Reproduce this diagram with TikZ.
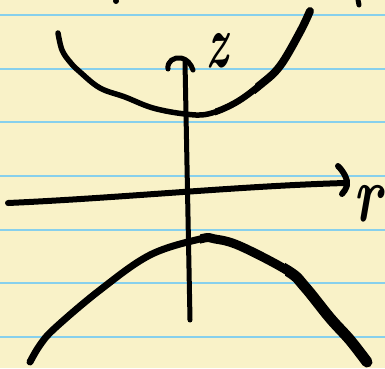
\documentclass[tikz,border=0pt]{standalone}
\usepackage{fontspec}
\usetikzlibrary{calc}
\definecolor{paper}{RGB}{249,242,200}
\definecolor{rule}{RGB}{135,208,236}
\tikzset{
  ink/.style={draw=black,line cap=round,line join=round},
  ruling/.style={draw=rule,line width=2pt},
  lbl/.style={inner sep=0pt,text=black}
}
\begin{document}
\begin{tikzpicture}[x=1pt,y=-1pt]
\fill[paper] (0,0) rectangle (385,368);
\useasboundingbox (0,0) rectangle (385,368);
\foreach \yy in {15,68.5,122,176,229.5,283,337}
  \draw[ruling] (0,\yy) -- (385,\yy);
% top stray marks
\fill (116,1) ellipse (3pt and 3pt);
\draw[ink,line width=5pt] (358,0) -- (359,5);
% upper parabola
\def\upper{plot[smooth,tension=0.6] coordinates {(58,33) (62,50) (70,62) (80,72) (100,88) (125,97) (153,108) (185,114) (208,114) (235,103) (260,85) (280,66) (300,32) (310,11)}}
\draw[ink,line width=5.5pt] \upper;
\begin{scope}
\clip (215,0) rectangle (385,368);
\draw[ink,line width=6.5pt] \upper;
\end{scope}
\begin{scope}
\clip (255,0) rectangle (385,368);
\draw[ink,line width=8pt] \upper;
\end{scope}
% lower curve
\def\lower{plot[smooth,tension=0.6] coordinates {(30,362) (40,345) (55,328) (100,290) (150,255) (200,239) (215,239) (240,246) (288,271) (305,287) (330,318) (350,340) (367,362)}}
\draw[ink,line width=7pt] \lower;
\begin{scope}
\clip (200,0) rectangle (385,368);
\draw[ink,line width=9pt] \lower;
\end{scope}
\begin{scope}
\clip (285,0) rectangle (385,368);
\draw[ink,line width=11pt] \lower;
\end{scope}
% z axis
\coordinate (zb) at (190,320);
\coordinate (zt) at (185,62);
\draw[ink,line width=5pt] (zb) -- (zt);
\draw[ink,line width=5pt] (168,69) .. controls (167,61) and (174,57) .. (181,58) .. controls (187,59) and (191,64) .. (193,70);
\node[lbl,font=\fontsize{52}{52}\selectfont\bfseries\itshape] (zl) at (217,51) {\scalebox{0.85}[1.45]{z}};
% r axis
\coordinate (rl) at (8,203);
\coordinate (rr) at (345,183);
\draw[ink,line width=6pt] (rl) .. controls (120,198) and (240,186) .. (rr);
\draw[ink,line width=6pt] (338,166) .. controls (344,172) and (348,180) .. (347,185) .. controls (346,189) and (344,192) .. (342,194);
\node[lbl,font=\fontsize{80}{80}\selectfont\bfseries\itshape] (rlab) at (368,204) {\scalebox{0.7}[1]{r}};
\end{tikzpicture}
\end{document}
